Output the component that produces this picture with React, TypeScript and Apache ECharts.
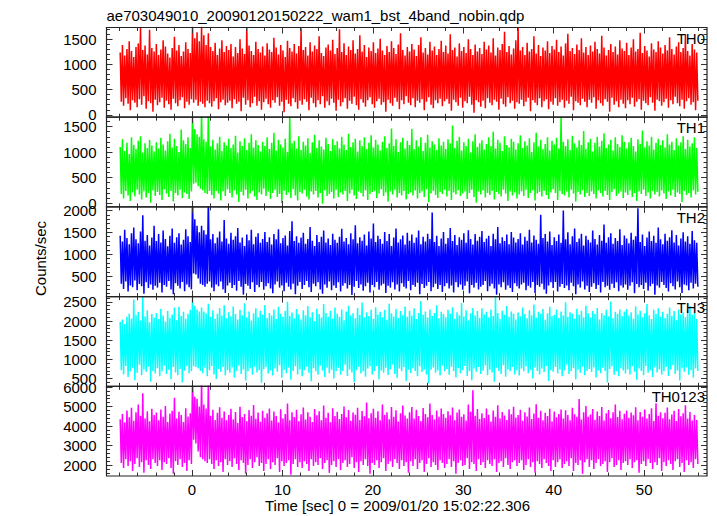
import React, { useEffect, useRef } from "react";
import * as echarts from "echarts";

const TITLE = "ae703049010_20090120150222_wam1_bst_4band_nobin.qdp";
const X_LABEL = "Time [sec] 0 = 2009/01/20 15:02:22.306";
const Y_LABEL = "Counts/sec";
const PANEL_NAMES = ["TH0", "TH1", "TH2", "TH3", "TH0123"];

const X_MIN = -9.45;
const X_MAX = 56.95;
const X_MAJOR = [0, 10, 20, 30, 40, 50];
const X_MINOR_STEP = 2;

const Y_MINS = [-48, -74, 35, 299, 1439];
const Y_MAXS = [1736, 1683, 2080, 2636, 6036];
const Y_MAJOR = [
  [0, 500, 1000, 1500],
  [0, 500, 1000, 1500],
  [500, 1000, 1500, 2000],
  [500, 1000, 1500, 2000, 2500],
  [2000, 3000, 4000, 5000, 6000],
];
const Y_MINOR_STEP = [100, 100, 100, 100, 200];

// time bins: 0.25 s wide, starting at -8 s; per bin the highest and lowest rate seen
const BIN_START = -8;
const BIN_WIDTH = 0.25;

const TH0_HI = [
  1240, 1390, 1180, 1310, 1460, 1270, 1150, 1350, 1420, 1750, 1290, 1380, 1200, 1690, 1330, 1260,
  1410, 1190, 1300, 1480, 1360, 1220, 1140, 1330, 1550, 1280, 1390, 1170, 1260, 1440, 1310, 1230,
  1760, 1520, 1640, 1460, 1760, 1580, 1390, 1620, 1350, 1270, 1430, 1190, 1320, 1480, 1250, 1370,
  1290, 1410, 1160, 1350, 1230, 1500, 1320, 1210, 1740, 1380, 1270, 1190, 1450, 1310, 1240, 1360,
  1180, 1420, 1300, 1250, 1530, 1340, 1200, 1390, 1280, 1150, 1470, 1330, 1260, 1410, 1220, 1370,
  1720, 1290, 1350, 1180, 1440, 1260, 1380, 1310, 1560, 1230, 1170, 1340, 1400, 1280, 1490, 1210,
  1330, 1700, 1250, 1420, 1190, 1360, 1290, 1480, 1220, 1310, 1580, 1260, 1390, 1150, 1340, 1270,
  1440, 1230, 1320, 1510, 1280, 1190, 1370, 1250, 1460, 1330, 1210, 1400, 1620, 1290, 1180, 1350,
  1260, 1410, 1300, 1170, 1390, 1540, 1240, 1330, 1200, 1450, 1280, 1360, 1190, 1310, 1470, 1250,
  1380, 1220, 1600, 1290, 1340, 1160, 1420, 1270, 1350, 1230, 1500, 1310, 1190, 1400, 1260, 1330,
  1210, 1450, 1300, 1380, 1240, 1520, 1180, 1340, 1290, 1410, 1650, 1250, 1370, 1200, 1320, 1480,
  1740, 1280, 1350, 1190, 1430, 1260, 1310, 1560, 1220, 1390, 1170, 1340, 1280, 1460, 1230, 1370,
  1300, 1490, 1250, 1360, 1180, 1420, 1610, 1270, 1330, 1210, 1400, 1290, 1520, 1240, 1350, 1190,
  1380, 1260, 1450, 1310, 1220, 1570, 1340, 1180, 1290, 1410, 1250, 1360, 1200, 1480, 1320, 1270,
  1430, 1190, 1340, 1500, 1260, 1310, 1630, 1230, 1370, 1280, 1160, 1420, 1300, 1250, 1460, 1340,
  1220, 1390, 1280, 1540, 1310, 1200, 1360, 1440, 1250, 1330, 1590, 1270, 1180, 1410, 1300, 1240,
];
const TH0_LO = [
  260, 180, 330, 220, 90, 290, 240, 150, 310, 200, 370, 120, 270, 230, 60, 300,
  190, 250, 340, 140, 280, 210, 100, 320, 230, 170, 290, 350, 130, 260, 200, 310,
  240, 300, 180, 260, 220, 150, 280, 230, 160, 270, 330, 110, 250, 300, 190, 240,
  280, 130, 310, 220, 260, 70, 340, 200, 290, 150, 230, 360, 180, 270, 100, 250,
  320, 210, 140, 290, 240, 350, 180, 260, 50, 300, 220, 170, 330, 250, 120, 280,
  200, 310, 260, 90, 340, 230, 150, 290, 210, 370, 140, 270, 190, 320, 240, 80,
  300, 170, 250, 330, 120, 280, 220, 360, 190, 100, 310, 240, 160, 290, 350, 210,
  140, 270, 320, 200, 250, 60, 300, 230, 180, 340, 260, 110, 290, 210, 370, 240,
  190, 330, 150, 280, 240, 310, 90, 260, 350, 200, 130, 290, 230, 320, 170, 270,
  310, 220, 80, 300, 250, 180, 340, 140, 270, 230, 360, 200, 40, 290, 250, 160,
  280, 130, 330, 240, 190, 300, 260, 100, 320, 210, 160, 350, 230, 280, 120, 250,
  220, 300, 170, 260, 340, 70, 290, 240, 190, 330, 150, 270, 310, 110, 260, 200,
  330, 180, 250, 300, 140, 280, 220, 360, 90, 270, 240, 190, 320, 260, 150, 300,
  240, 350, 120, 290, 230, 180, 310, 260, 60, 340, 200, 270, 150, 300, 220, 130,
  290, 210, 340, 160, 260, 310, 100, 280, 230, 190, 350, 240, 80, 300, 270, 180,
  250, 320, 140, 290, 210, 360, 230, 170, 300, 120, 270, 330, 200, 250, 90, 280,
];
const TH1_HI = [
  1100, 1250, 1020, 1180, 960, 1290, 1140, 1060, 1220, 1310, 990, 1170, 1080, 1240, 1130, 1010,
  1190, 1070, 1280, 1150, 1030, 1210, 1360, 1090, 1260, 1120, 1000, 1440, 1230, 1160, 1290, 1080,
  1800, 1450, 1350, 1300, 1800, 1250, 1200, 1800, 1110, 1240, 1050, 1170, 1300, 1020, 1190, 1130,
  1260, 1080, 1150, 1320, 990, 1210, 1120, 1270, 1040, 1180, 1350, 1090, 1230, 1140, 1010, 1200,
  1120, 1290, 1060, 1180, 1380, 1030, 1240, 1150, 1090, 1260, 1000, 1700, 1170, 1220, 1070, 1310,
  1040, 1200, 1130, 1270, 980, 1190, 1340, 1080, 1230, 1110, 1050, 1280, 1160, 1020, 1250, 1140,
  1210, 1070, 1300, 1150, 1040, 1360, 1100, 1190, 1260, 1010, 1230, 1120, 1290, 1060, 1180, 1330,
  1090, 1240, 1150, 1030, 1200, 1310, 1080, 1170, 1460, 1120, 1250, 1000, 1190, 1280, 1070, 1220,
  1140, 1450, 1060, 1230, 1110, 1290, 1020, 1180, 1340, 1090, 1210, 1150, 1040, 1270, 1130, 1200,
  1060, 1250, 1170, 1520, 1080, 1220, 1300, 1030, 1190, 1120, 1260, 990, 1210, 1350, 1100, 1170,
  1230, 1050, 1160, 1290, 1120, 1400, 1070, 1240, 1180, 1020, 1310, 1140, 1090, 1260, 1200, 1050,
  1170, 1330, 1080, 1210, 1130, 1270, 1000, 1190, 1380, 1110, 1240, 1060, 1160, 1290, 1030, 1220,
  1150, 1280, 1070, 1690, 1200, 1120, 1250, 1040, 1320, 1170, 1090, 1230, 1140, 1410, 1060, 1190,
  1260, 1010, 1180, 1300, 1110, 1220, 1370, 1080, 1150, 1240, 1030, 1290, 1160, 1100, 1330, 1200,
  1070, 1190, 1280, 1120, 1010, 1250, 1160, 1420, 1090, 1210, 1130, 1300, 1050, 1180, 1260, 1140,
  1230, 1090, 1350, 1150, 1200, 1040, 1270, 1130, 1190, 1310, 1060, 1240, 1110, 1170, 1290, 1080,
];
const TH1_LO = [
  180, 90, 240, 150, 40, 210, 130, 260, 170, 70, 230, 110, 200, 10, 250, 140,
  220, 160, 60, 270, 190, 120, 240, 30, 200, 150, 260, 100, 210, 180, 80, 230,
  380, 400, 330, 280, 250, 200, 180, 240, 160, 90, 240, 190, 50, 230, 140, 270,
  200, 110, 250, 170, 20, 220, 150, 260, 90, 190, 240, 130, 60, 210, 170, 280,
  140, 230, 80, 200, 260, 120, 180, 0, 240, 160, 210, 100, 270, 150, 50, 220,
  190, 260, 130, 70, 230, 170, 240, 110, 200, -10, 250, 140, 180, 220, 90, 260,
  120, 210, 170, 240, 40, 190, 260, 150, 80, 230, 200, 130, 250, 60, 180, 220,
  240, 100, 190, 270, 140, 210, 30, 230, 170, 260, 110, 200, 150, 240, 70, 180,
  210, 150, 250, 90, 200, 230, 120, 270, 20, 190, 240, 160, 100, 220, 180, 260,
  130, 240, 60, 210, 170, 250, 140, 190, 230, 80, 200, 260, 120, 10, 230, 170,
  250, 110, 200, 160, 240, 70, 220, 180, 130, 260, 190, 40, 230, 150, 210, 90,
  170, 230, 140, 260, 100, 200, 250, 50, 190, 220, 130, 240, 160, 80, 210, 270,
  200, 60, 240, 180, 150, 230, 110, 260, 190, 30, 220, 170, 250, 120, 200, 140,
  230, 180, 90, 250, 200, 130, 240, 160, 60, 220, 270, 140, 190, 230, 100, 210,
  160, 250, 120, 200, 40, 230, 180, 260, 140, 210, 90, 240, 170, 220, 130, 250,
  190, 80, 230, 150, 260, 120, 210, 180, 20, 240, 160, 200, 110, 250, 170, 220,
];
const TH2_HI = [
  1420, 1290, 1560, 1370, 1230, 1480, 1610, 1340, 1250, 1520, 1890, 1310, 1440, 1200, 1380, 1650,
  1300, 1460, 1270, 1540, 1350, 1180, 1420, 1590, 1260, 1390, 1480, 1220, 1330, 1570, 1410, 1280,
  2300, 1800, 1650, 1500, 1650, 1550, 1450, 2300, 1340, 1460, 1250, 1380, 1520, 1290, 1780, 1360,
  1240, 1490, 1330, 1410, 1600, 1270, 1380, 1190, 1450, 1320, 1560, 1230, 1400, 1480, 1260, 1350,
  1510, 1280, 1390, 1220, 1460, 1340, 1570, 1250, 1370, 1430, 1200, 1530, 1750, 1300, 1410, 1260,
  1380, 1490, 1240, 1350, 1620, 1310, 1190, 1440, 1280, 1400, 1540, 1270, 1360, 1210, 1470, 1330,
  1260, 1400, 1580, 1290, 1370, 1230, 1480, 1340, 1660, 1250, 1390, 1310, 1450, 1200, 1520, 1360,
  1700, 1280, 1420, 1350, 1240, 1510, 1300, 1460, 1190, 1380, 1590, 1270, 1340, 1430, 1220, 1490,
  1310, 1450, 1260, 1380, 1540, 1230, 1400, 1290, 1470, 1350, 1950, 1280, 1420, 1190, 1360, 1510,
  1240, 1370, 1600, 1300, 1440, 1210, 1390, 1330, 1480, 1260, 1550, 1350, 1220, 1460, 1310, 1400,
  1530, 1280, 1360, 1420, 1190, 1470, 1340, 1620, 1250, 1390, 1300, 1450, 1230, 1510, 1380, 1270,
  1350, 1480, 1220, 1400, 1310, 1560, 1270, 1430, 1330, 1240, 1900, 1370, 1460, 1290, 1520, 1210,
  1390, 1300, 1450, 1260, 2000, 1340, 1500, 1230, 1410, 1590, 1280, 1360, 1470, 1200, 1420, 1330,
  1270, 1540, 1350, 1220, 1440, 1310, 1680, 1260, 1390, 1480, 1240, 1370, 1300, 1570, 1210, 1430,
  1360, 1250, 1490, 1330, 1410, 2050, 1280, 1450, 1190, 1380, 1520, 1300, 1420, 1260, 1610, 1340,
  1230, 1470, 1310, 1390, 1550, 1270, 1440, 1200, 1360, 1500, 1290, 1410, 1240, 1530, 1320, 1260,
];
const TH2_LO = [
  330, 210, 380, 150, 290, 250, 400, 180, 320, 270, 100, 360, 230, 310, 190, 280,
  240, 350, 130, 300, 260, 390, 200, 90, 340, 280, 220, 370, 160, 310, 250, 200,
  560, 540, 450, 330, 300, 260, 330, 380, 240, 160, 310, 270, 380, 200, 120, 290,
  350, 230, 300, 170, 390, 260, 80, 320, 280, 210, 360, 140, 300, 250, 370, 190,
  270, 340, 220, 110, 310, 380, 240, 290, 160, 350, 260, 200, 330, 90, 280, 370,
  210, 300, 390, 250, 140, 330, 270, 360, 200, 100, 310, 240, 380, 180, 290, 230,
  360, 150, 280, 340, 220, 300, 70, 260, 390, 230, 310, 170, 270, 350, 130, 300,
  250, 370, 190, 290, 330, 120, 280, 240, 360, 200, 310, 150, 340, 260, 220, 390,
  180, 300, 260, 350, 90, 320, 230, 280, 370, 160, 250, 330, 210, 300, 140, 270,
  340, 220, 290, 130, 360, 250, 310, 190, 280, 380, 110, 300, 240, 350, 200, 260,
  300, 390, 160, 270, 330, 220, 80, 310, 250, 360, 190, 290, 230, 140, 340, 270,
  220, 310, 350, 180, 280, 240, 370, 120, 300, 260, 330, 200, 100, 290, 360, 230,
  370, 150, 260, 320, 230, 290, 180, 350, 270, 90, 310, 240, 380, 200, 280, 140,
  260, 340, 210, 300, 130, 370, 250, 280, 190, 330, 230, 360, 160, 290, 240, 310,
  190, 280, 360, 110, 320, 250, 300, 210, 350, 170, 270, 330, 80, 290, 240, 370,
  300, 230, 150, 340, 270, 200, 380, 250, 120, 310, 290, 180, 350, 220, 330, 260,
];
const TH3_HI = [
  1980, 2040, 1920, 2110, 2190, 2060, 2560, 2150, 2240, 2010, 2630, 2120, 2280, 1970, 2180, 2090,
  2210, 2050, 2320, 2140, 1990, 2260, 2080, 2170, 2350, 2020, 2370, 2130, 2240, 2060, 2190, 2290,
  2700, 2400, 2300, 2250, 2350, 2250, 2200, 2450, 2110, 2280, 2060, 2190, 2340, 2140, 2410, 2070,
  2230, 2120, 2380, 2180, 2040, 2290, 2150, 2460, 2090, 2250, 2010, 2200, 2330, 2100, 2270, 2160,
  2420, 2080, 2210, 2140, 2300, 2050, 2370, 2190, 2110, 2260, 2500, 2130, 2220, 2070, 2310, 2170,
  2040, 2280, 2150, 2390, 2100, 2230, 2000, 2320, 2180, 2090, 2440, 2210, 2120, 2270, 2060, 2350,
  2190, 2110, 2300, 2020, 2250, 2400, 2140, 2200, 2070, 2340, 2160, 2480, 2090, 2230, 2130, 2290,
  2060, 2360, 2170, 2240, 2100, 2290, 2030, 2450, 2200, 2120, 2310, 2080, 2260, 2150, 2380, 2110,
  2270, 2140, 2330, 2050, 2200, 2520, 2160, 2250, 2090, 2300, 2130, 2210, 2410, 2070, 2240, 2180,
  2100, 2290, 2190, 2360, 2060, 2230, 2150, 2470, 2120, 2280, 2010, 2200, 2340, 2140, 2260, 2080,
  2330, 2170, 2240, 2090, 2300, 2130, 2630, 2210, 2050, 2270, 2160, 2390, 2110, 2250, 2190, 2040,
  2220, 2120, 2350, 2180, 2070, 2280, 2150, 2430, 2090, 2240, 2190, 2310, 2030, 2200, 2370, 2130,
  2160, 2300, 2080, 2250, 2140, 2490, 2110, 2230, 2190, 2060, 2320, 2170, 2270, 2100, 2400, 2200,
  2090, 2260, 2180, 2340, 2040, 2210, 2150, 2290, 2120, 2510, 2070, 2240, 2190, 2300, 2130, 2250,
  2310, 2140, 2230, 2060, 2380, 2170, 2270, 2100, 2200, 2440, 2150, 2050, 2290, 2180, 2330, 2110,
  2240, 2080, 2190, 2350, 2130, 2260, 2020, 2300, 2170, 2220, 2100, 2280, 2390, 2160, 2210, 2060,
];
const TH3_LO = [
  720, 610, 830, 540, 690, 780, 460, 650, 860, 590, 740, 680, 810, 420, 700, 630,
  770, 560, 690, 840, 620, 730, 480, 800, 660, 590, 750, 400, 710, 820, 640, 690,
  820, 800, 760, 700, 640, 780, 560, 720, 830, 610, 490, 750, 680, 800, 580, 720,
  650, 790, 530, 700, 840, 620, 740, 450, 690, 770, 600, 810, 660, 720, 390, 750,
  800, 630, 710, 580, 760, 680, 850, 520, 730, 640, 790, 470, 700, 820, 610, 740,
  560, 720, 810, 650, 430, 770, 690, 600, 840, 710, 540, 780, 640, 730, 500, 690,
  780, 600, 700, 860, 570, 740, 660, 410, 720, 800, 630, 690, 550, 760, 820, 610,
  700, 830, 480, 710, 650, 780, 590, 740, 870, 620, 520, 760, 690, 800, 440, 730,
  640, 760, 700, 560, 820, 670, 740, 610, 380, 730, 790, 650, 710, 580, 840, 690,
  750, 600, 810, 690, 530, 770, 640, 720, 830, 570, 700, 460, 760, 680, 800, 620,
  710, 840, 590, 730, 660, 420, 780, 700, 620, 850, 550, 740, 690, 800, 610, 720,
  580, 760, 690, 820, 640, 730, 500, 790, 700, 610, 760, 670, 830, 440, 720, 680,
  800, 630, 740, 560, 710, 860, 620, 690, 770, 480, 730, 650, 810, 590, 700, 750,
  670, 790, 530, 720, 640, 780, 700, 400, 750, 820, 600, 690, 560, 770, 710, 630,
  740, 610, 820, 680, 470, 760, 700, 590, 830, 650, 720, 540, 790, 660, 740, 610,
  690, 800, 570, 730, 850, 620, 710, 450, 770, 680, 790, 600, 720, 530, 760, 700,
];
const TH0123_HI = [
  4350, 4620, 4180, 4800, 4450, 4930, 4270, 4700, 5100, 4520, 5680, 4390, 4760, 4240, 4880, 4560,
  4690, 4300, 4850, 4470, 5020, 4210, 4640, 4780, 5450, 4380, 4730, 4560, 4200, 4910, 4490, 4650,
  6500, 5500, 5400, 5000, 6300, 5100, 4900, 6300, 4520, 4830, 4310, 4680, 4960, 4420, 4750, 4290,
  4570, 4880, 4340, 4720, 4150, 4990, 4460, 4610, 4250, 4820, 4530, 5080, 4370, 4690, 4220, 4780,
  4420, 4650, 4900, 4280, 4740, 4510, 4180, 4860, 4390, 4620, 5150, 4300, 4710, 4460, 4830, 4240,
  4600, 4950, 4330, 4700, 4480, 4210, 4870, 4550, 4760, 4300, 5050, 4420, 4680, 4190, 4910, 4510,
  4730, 4360, 4620, 5000, 4450, 4820, 4270, 4690, 4580, 4940, 4310, 4770, 4500, 5200, 4400, 4660,
  4880, 4420, 4760, 4290, 5100, 4560, 4700, 4350, 4980, 4470, 4810, 4230, 4650, 5050, 4540, 4390,
  4700, 4980, 4380, 4830, 4510, 4260, 4920, 4620, 4450, 5150, 4570, 4340, 4790, 4480, 4900, 4610,
  4420, 4760, 4550, 4950, 4300, 4690, 4840, 4470, 4600, 4280, 5100, 4730, 5830, 4520, 4870, 4360,
  4650, 4410, 4900, 4580, 4230, 4800, 4470, 5060, 4380, 4720, 4540, 4310, 4860, 4600, 4990, 4440,
  4560, 4830, 4270, 4700, 4490, 4950, 4360, 4640, 5120, 4420, 4780, 4300, 4680, 4510, 4890, 4250,
  4740, 4450, 4620, 4850, 4380, 4810, 4560, 4290, 4930, 4600, 4470, 5390, 4330, 4700, 5020, 4480,
  4590, 4870, 4320, 4740, 4510, 4980, 4280, 4650, 4820, 4400, 4710, 5100, 4460, 4780, 4350, 4630,
  4800, 4420, 4690, 4550, 4960, 4300, 4720, 4480, 4850, 4380, 4610, 4910, 4260, 5170, 4530, 4700,
  4400, 4680, 4950, 4340, 4590, 4780, 4260, 4870, 4500, 4650, 5060, 4390, 4720, 4280, 4560, 4310,
];
const TH0123_LO = [
  2100, 1850, 2300, 1950, 2200, 1700, 2050, 2350, 1900, 2150, 1600, 2250, 2000, 1800, 2300, 2100,
  1950, 2250, 1750, 2150, 2050, 2350, 1850, 1550, 2200, 2000, 2300, 1900, 2100, 1700, 2250, 2050,
  3300, 3100, 2700, 2400, 2300, 2200, 2100, 2300, 2050, 1800, 2250, 1950, 2150, 1650, 2300, 2000,
  2200, 1900, 2350, 2050, 1750, 2250, 2100, 1550, 2000, 2300, 1850, 2150, 2400, 1950, 2100, 1700,
  2050, 2300, 1800, 2150, 2000, 2350, 1650, 2200, 1950, 2100, 2250, 1500, 2050, 2300, 1900, 2150,
  1850, 2200, 2050, 1700, 2300, 1950, 2150, 2000, 2350, 1800, 2100, 2250, 1600, 2000, 2200, 1900,
  2300, 1750, 2100, 2250, 1900, 2050, 2400, 1850, 2150, 1650, 2200, 2000, 2300, 1950, 1550, 2100,
  2000, 2250, 1850, 2150, 2350, 1700, 2050, 2200, 1900, 2300, 2100, 1800, 2250, 1950, 2150, 1600,
  2200, 1950, 2300, 1800, 2100, 2250, 1650, 2050, 2350, 1900, 2150, 2000, 1750, 2250, 2100, 1850,
  2050, 2300, 1900, 2200, 1550, 2100, 2250, 1950, 2000, 2350, 1800, 2150, 2050, 1700, 2300, 2000,
  2150, 1850, 2250, 2050, 1950, 2300, 1650, 2100, 2200, 1900, 2350, 2000, 1800, 2150, 2250, 1950,
  2100, 2250, 1750, 2000, 2300, 1900, 2150, 1600, 2200, 2050, 1850, 2300, 2100, 1950, 1700, 2250,
  1900, 2150, 2300, 1850, 2050, 2200, 1950, 2350, 1700, 2100, 2000, 2250, 1550, 2150, 2300, 1900,
  2250, 1800, 2100, 2300, 1950, 2050, 2200, 1650, 2150, 2350, 1900, 2000, 2250, 1750, 2100, 2200,
  2000, 2300, 1850, 2150, 2250, 1600, 2050, 2200, 1950, 2300, 2100, 1800, 2150, 2000, 2350, 1700,
  2150, 1950, 2250, 2050, 1750, 2200, 2300, 1900, 2100, 1650, 2250, 2000, 2150, 1850, 2300, 2050,
];

const PANEL_HI = [TH0_HI, TH1_HI, TH2_HI, TH3_HI, TH0123_HI];
const PANEL_LO = [TH0_LO, TH1_LO, TH2_LO, TH3_LO, TH0123_LO];
const PANEL_COLORS = ["#ff0000", "#00ff00", "#0000ff", "#00ffff", "#ff00ff"];

const W = 717;
const H = 516;
const PLOT_LEFT = 106.5;
const PLOT_RIGHT = 707;
const PLOT_TOP = 27.5;
const PLOT_BOTTOM = 476;
const FONT = "'Liberation Sans', Arial, Helvetica, sans-serif";
const TICK_COLOR = "#333";
const MAJOR_LEN = 6;
const MINOR_LEN = 3.5;

function zigzag(hi: number[], lo: number[]) {
  const pts: number[][] = [];
  for (let i = 0; i < hi.length; i++) {
    const t0 = BIN_START + i * BIN_WIDTH;
    pts.push([t0 + BIN_WIDTH * 0.25, hi[i]]);
    pts.push([t0 + BIN_WIDTH * 0.75, lo[i]]);
  }
  return pts;
}

function multiples(min: number, max: number, step: number) {
  const out: number[] = [];
  for (let v = Math.ceil(min / step) * step; v <= max + 1e-9; v += step) out.push(+v.toFixed(6));
  return out;
}

function buildOption() {
  const n = PANEL_NAMES.length;
  const ph = (PLOT_BOTTOM - PLOT_TOP) / n;
  const grids: any[] = [];
  const xAxes: any[] = [];
  const yAxes: any[] = [];
  const series: any[] = [];
  const graphics: any[] = [];
  const xMinor = multiples(X_MIN, X_MAX, X_MINOR_STEP);
  const plain = (v: number) => String(v);

  for (let p = 0; p < n; p++) {
    const top = PLOT_TOP + p * ph;
    grids.push({ left: PLOT_LEFT, width: PLOT_RIGHT - PLOT_LEFT, top, height: ph, show: false });
    const isLast = p === n - 1;
    const baseX = {
      type: "value",
      gridIndex: p,
      min: X_MIN,
      max: X_MAX,
      axisLine: { show: false, onZero: false },
      splitLine: { show: false },
      z: 5,
    };
    const mkX = (position: string, values: number[], len: number, labels: boolean) => ({
      ...baseX,
      position,
      axisTick: { show: true, inside: true, length: len, customValues: values, lineStyle: { color: TICK_COLOR, width: 1 } },
      axisLabel: labels
        ? { show: true, customValues: X_MAJOR, formatter: plain, margin: 6, color: "#000", fontSize: 15, fontFamily: FONT }
        : { show: false },
    });
    xAxes.push(mkX("bottom", X_MAJOR, MAJOR_LEN, isLast));
    xAxes.push(mkX("bottom", xMinor, MINOR_LEN, false));
    xAxes.push(mkX("top", X_MAJOR, MAJOR_LEN, false));
    xAxes.push(mkX("top", xMinor, MINOR_LEN, false));

    const yMinor = multiples(Y_MINS[p], Y_MAXS[p], Y_MINOR_STEP[p]);
    const baseY = {
      type: "value",
      gridIndex: p,
      min: Y_MINS[p],
      max: Y_MAXS[p],
      axisLine: { show: false, onZero: false },
      splitLine: { show: false },
      z: 5,
    };
    const mkY = (position: string, values: number[], len: number, labels: boolean) => ({
      ...baseY,
      position,
      axisTick: { show: true, inside: true, length: len, customValues: values, lineStyle: { color: TICK_COLOR, width: 1 } },
      axisLabel: labels
        ? { show: true, customValues: Y_MAJOR[p], formatter: plain, margin: 10, color: "#000", fontSize: 15, fontFamily: FONT }
        : { show: false },
    });
    yAxes.push(mkY("left", Y_MAJOR[p], MAJOR_LEN, true));
    yAxes.push(mkY("left", yMinor, MINOR_LEN, false));
    yAxes.push(mkY("right", Y_MAJOR[p], MAJOR_LEN, false));
    yAxes.push(mkY("right", yMinor, MINOR_LEN, false));

    series.push({
      type: "line",
      name: PANEL_NAMES[p],
      xAxisIndex: 4 * p,
      yAxisIndex: 4 * p,
      data: zigzag(PANEL_HI[p], PANEL_LO[p]),
      showSymbol: false,
      symbol: "none",
      clip: true,
      silent: true,
      lineStyle: { color: PANEL_COLORS[p], width: 1.5, join: "bevel" },
      z: 2,
    });

    graphics.push({
      type: "rect",
      shape: { x: PLOT_LEFT, y: top, width: PLOT_RIGHT - PLOT_LEFT, height: ph },
      style: { fill: "none", stroke: "#222", lineWidth: 1.2 },
      z: 50,
      silent: true,
    });
    graphics.push({
      type: "text",
      x: 705,
      y: top + 10.5,
      style: { text: PANEL_NAMES[p], fill: "#000", fontSize: 15, fontFamily: FONT, align: "right", verticalAlign: "middle" },
      z: 60,
    });
  }

  graphics.push({
    type: "text",
    x: 106.5,
    y: 15,
    style: { text: TITLE, fill: "#000", fontSize: 15, fontFamily: FONT, align: "left", verticalAlign: "middle" },
  });
  graphics.push({
    type: "text",
    x: 397.5,
    y: 505.5,
    style: { text: X_LABEL, fill: "#000", fontSize: 15, fontFamily: FONT, align: "center", verticalAlign: "middle" },
  });
  graphics.push({
    type: "text",
    x: 40.5,
    y: 258.5,
    rotation: Math.PI / 2,
    style: { text: Y_LABEL, fill: "#000", fontSize: 15, fontFamily: FONT, align: "center", verticalAlign: "middle" },
  });

  return {
    animation: false,
    backgroundColor: "#ffffff",
    grid: grids,
    xAxis: xAxes,
    yAxis: yAxes,
    series,
    graphic: graphics,
  };
}

export default function App() {
  const ref = useRef<HTMLDivElement>(null);
  useEffect(() => {
    if (!ref.current) return;
    const chart = echarts.init(ref.current, undefined, { renderer: "svg" });
    chart.setOption(buildOption() as any);
    return () => chart.dispose();
  }, []);
  return (
    <div
      ref={ref}
      style={{ position: "fixed", left: 0, top: 0, width: W, height: H, background: "#fff" }}
    />
  );
}
